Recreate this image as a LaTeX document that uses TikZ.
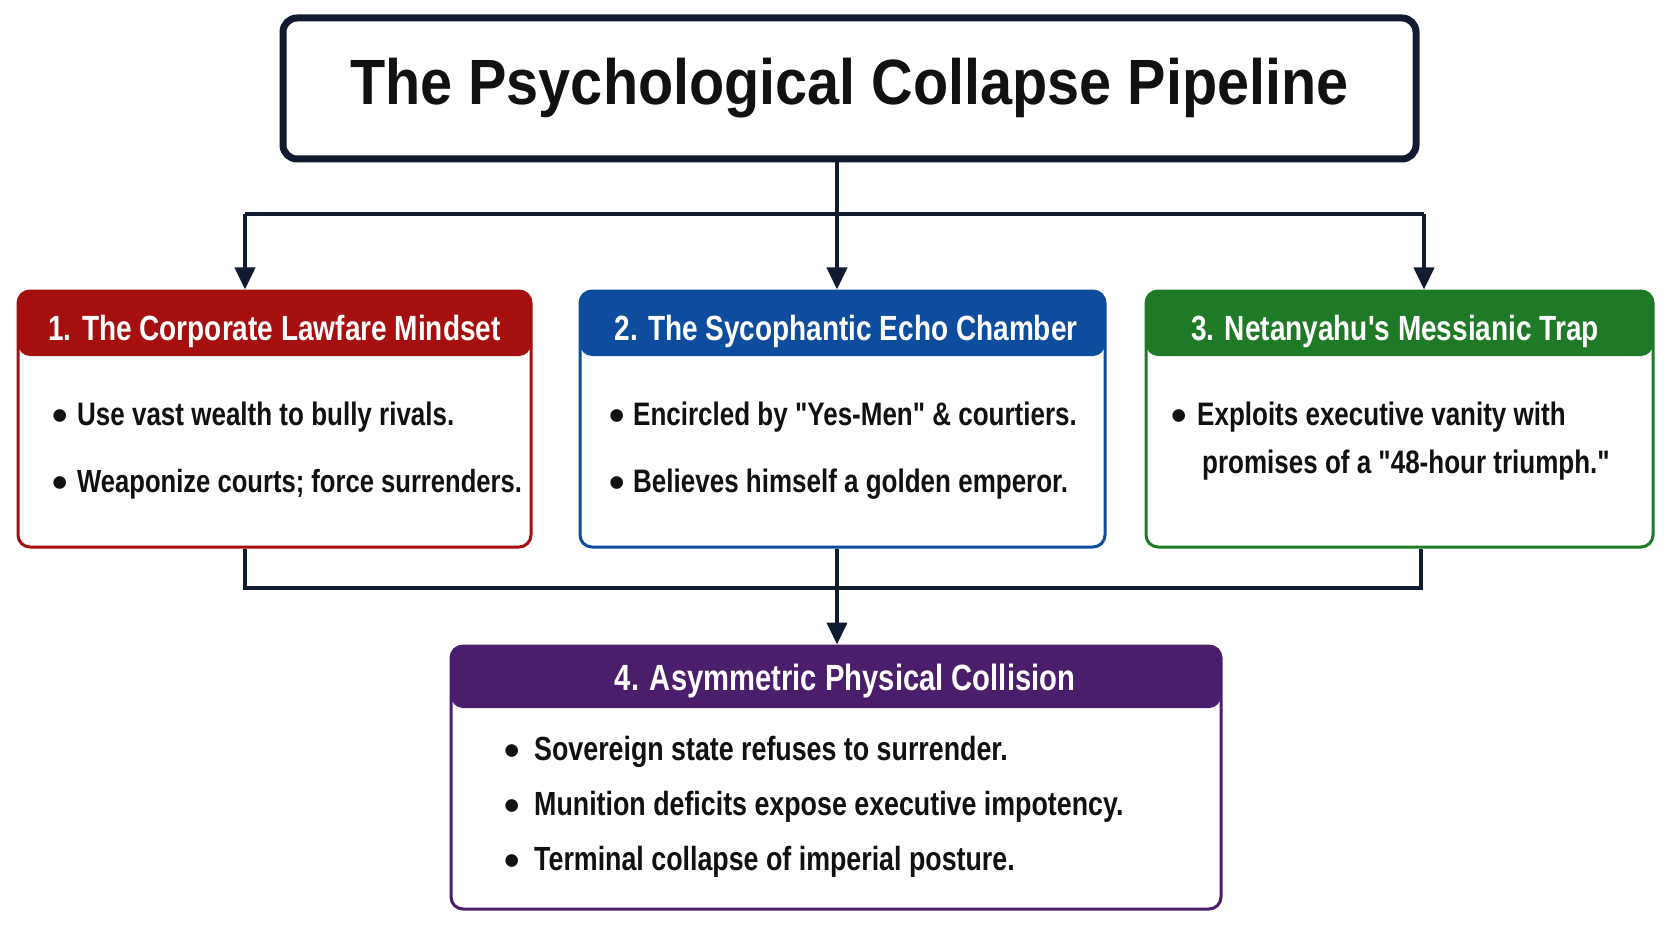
\documentclass[tikz,border=0pt]{standalone}
\usepackage{fontspec}
\setmainfont{Liberation Sans}
\newfontfamily\titlef{Liberation Sans}[FakeStretch=0.9]
\newfontfamily\bodyf{Liberation Sans}[FakeStretch=0.8]
\usetikzlibrary{arrows.meta}
\definecolor{navy}{HTML}{111B30}
\definecolor{cred}{HTML}{A50F0F}
\definecolor{cblue}{HTML}{0E4C9E}
\definecolor{cgreen}{HTML}{1E7A27}
\definecolor{cpurple}{HTML}{4B1E6B}
\definecolor{ink}{HTML}{111111}
\newcommand{\bigbul}[1]{\makebox[#1][l]{\raisebox{-5.5pt}{\rmfamily\bfseries\fontsize{44}{44}\selectfont\textbullet}}}
\tikzset{
  conn/.style={draw=navy, line width=4pt},
  arr/.style={-{Triangle[length=22pt,width=20pt]}},
  card/.style 2 args={draw=#1, line width=3pt, rounded corners=12pt, fill=white, inner sep=0pt,
    path picture={\fill[#1] (path picture bounding box.north west) rectangle ([yshift=-#2]path picture bounding box.north east);}},
  hdrtext/.style={text=white, font=\bodyf\bfseries\fontsize{35}{40}\selectfont, inner sep=0pt, anchor=base},
  bul/.style={text=ink, font=\bodyf\bfseries\fontsize{32.5}{38}\selectfont, inner sep=0pt, anchor=base west},
  bulb/.style={bul, font=\bodyf\bfseries\fontsize{33.5}{38}\selectfont},
}
\begin{document}
\begin{tikzpicture}[x=1pt,y=-1pt]
\useasboundingbox[fill=white] (0,0) rectangle (1672,941);

% title
\node[draw=navy, line width=7pt, rounded corners=14pt, fill=white, minimum width=1133pt, minimum height=141pt,
      font=\titlef\bfseries\fontsize{64}{70}\selectfont, text=ink] (title) at (849.5,88.5) {The Psychological Collapse Pipeline};

% cards
\node[card={cred}{65pt}, minimum width=513pt, minimum height=256pt] (b1) at (274.5,419) {};
\node[card={cblue}{65pt}, minimum width=525pt, minimum height=256pt] (b2) at (842.5,419) {};
\node[card={cgreen}{65pt}, minimum width=507pt, minimum height=256pt] (b3) at (1399.5,419) {};
\node[card={cpurple}{62pt}, minimum width=770pt, minimum height=263pt] (b4) at (836,777.5) {};

% connectors
\coordinate (j) at (837,214);
\coordinate (jl) at (245,214);
\coordinate (jr) at (1424,214);
\draw[conn] (title.south -| j) -- (j);
\draw[conn] (jl) -- (jr);
\draw[conn,arr] (jl) -- (jl |- b1.north);
\draw[conn,arr] (j) -- (j |- b2.north);
\draw[conn,arr] (jr) -- (jr |- b3.north);

\coordinate (k) at (837,588);
\coordinate (kl) at (245,588);
\coordinate (kr) at (1421,588);
\draw[conn] (b1.south -| kl) -- (kl) -- (kr) -- (b3.south -| kr);
\draw[conn] (b2.south -| k) -- (k);
\draw[conn,arr] (k) -- (k |- b4.north);

% headers
\node[hdrtext] (h1) at (274.5,340) {1. The Corporate Lawfare Mindset};
\node[hdrtext] (h2) at (846,340) {2. The Sycophantic Echo Chamber};
\node[hdrtext] (h3) at (1395,340) {3. Netanyahu's Messianic Trap};
\node[hdrtext, font=\bodyf\bfseries\fontsize{36.5}{40}\selectfont] (h4) at (845,690) {4. Asymmetric Physical Collision};

% bullets
\node[bul] (t11) at (52,425) {\bigbul{25pt}Use vast wealth to bully rivals.};
\node[bul, font=\bodyf\bfseries\fontsize{32}{38}\selectfont] (t12) at (52,492) {\bigbul{25pt}Weaponize courts; force surrenders.};
\node[bul] (t21) at (609,425) {\bigbul{24pt}Encircled by "Yes-Men" \& courtiers.};
\node[bul] (t22) at (609,492) {\bigbul{24pt}Believes himself a golden emperor.};
\node[bul] (t31) at (1171,425) {\bigbul{26pt}Exploits executive vanity with};
\node[bul] (t32) at (1202,473) {promises of a "48-hour triumph."};
\node[bulb] (t41) at (504,760) {\bigbul{30pt}Sovereign state refuses to surrender.};
\node[bulb] (t42) at (504,815) {\bigbul{30pt}Munition deficits expose executive impotency.};
\node[bulb] (t43) at (504,870) {\bigbul{30pt}Terminal collapse of imperial posture.};
\end{tikzpicture}
\end{document}
